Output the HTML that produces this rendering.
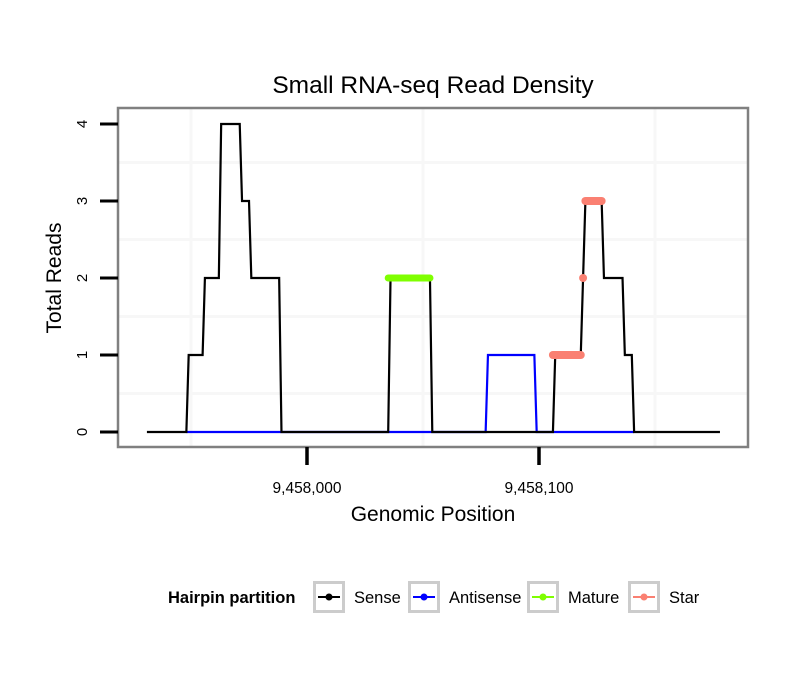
<!DOCTYPE html>
<html><head><meta charset="utf-8"><style>
body{margin:0;background:#fff;}
svg text{font-family:"Liberation Sans",sans-serif;}
</style></head><body>
<svg width="810" height="690" viewBox="0 0 810 690">
<rect width="810" height="690" fill="#fff"/>
<text x="433" y="93" font-size="24.5" text-anchor="middle">Small RNA-seq Read Density</text>
<g id="grid"></g>
<g id="series"></g>
<rect x="118" y="108" width="630" height="339" fill="none" stroke="#808080" stroke-width="2.5"/>
<g id="axes"></g>
<text x="433" y="521" font-size="21" text-anchor="middle">Genomic Position</text>
<text transform="translate(61,278) rotate(-90)" font-size="21" text-anchor="middle">Total Reads</text>
<g>
<text x="168" y="603" font-size="16.5" font-weight="bold">Hairpin partition</text>
<g id="legend"></g>
</g>
</svg>
<script>
const ticksX = [0, 100];
const tickLabelsX = ["9,458,000", "9,458,100"];
const ticksY = [0, 1, 2, 3, 4];
const senseX = [-69,-52,-51,-45,-44,-38,-37,-29,-28,-25,-24,-12,-11,35,36,53,54,106,107,118,119,120,127,128,136,137,140,141,178];
const senseY = [0,0,1,1,2,2,4,4,3,3,2,2,0,0,2,2,0,0,1,1,2,3,3,2,2,1,1,0,0];
const antiX = [-52,77,78,98,99,141];
const antiY = [0,0,1,1,0,0];
const matureX = [35,53];
const matureY = [2,2];
const starSegX = [[106,118],[119,119],[120,127]];
const starSegY = [1,2,3];
const legendLabels = ["Sense","Antisense","Mature","Star"];
const legendColors = ["#000000","#0000ff","#7fff00","#fa8072"];

const NS="http://www.w3.org/2000/svg";
const sx = v => 307 + v*2.32;
const sy = v => 432 - v*77;
function mk(tag, attrs, parent){const e=document.createElementNS(NS,tag);for(const k in attrs)e.setAttribute(k,attrs[k]);parent.appendChild(e);return e;}
const grid=document.getElementById('grid'), ser=document.getElementById('series'), ax=document.getElementById('axes'), lg=document.getElementById('legend');

[-50,50,150].forEach(v=>{const l=mk('line',{x1:sx(v),x2:sx(v),y1:109,y2:446,stroke:'#f7f7f7','stroke-width':3},grid);

});
[0.5,1.5,2.5,3.5].forEach(v=>{const l=mk('line',{x1:119,x2:747,y1:sy(v),y2:sy(v),stroke:'#f7f7f7','stroke-width':3},grid);

});

function pts(xs,ys){return xs.map((x,i)=>sx(x)+','+sy(ys[i])).join(' ');}
const a=mk('polyline',{points:pts(antiX,antiY),fill:'none',stroke:'#0000ff','stroke-width':2.2},ser);


const s=mk('polyline',{points:pts(senseX,senseY),fill:'none',stroke:'#000','stroke-width':2.2},ser);


const m=mk('line',{x1:sx(matureX[0]),x2:sx(matureX[1]),y1:sy(matureY[0]),y2:sy(matureY[1]),stroke:'#7fff00','stroke-width':7,'stroke-linecap':'round'},ser);


starSegX.forEach((seg,i)=>{const l=mk('line',{x1:sx(seg[0]),x2:sx(seg[1]),y1:sy(starSegY[i]),y2:sy(starSegY[i]),stroke:'#fa8072','stroke-width':8,'stroke-linecap':'round'},ser);

});

ticksY.forEach(v=>{const t=mk('line',{x1:100,x2:118,y1:sy(v),y2:sy(v),stroke:'#000','stroke-width':3},ax);


const tx=mk('text',{transform:`translate(87,${sy(v)}) rotate(-90)`,'font-size':15,'text-anchor':'middle'},ax);tx.textContent=v;

});
ticksX.forEach((v,i)=>{const t=mk('line',{x1:sx(v),x2:sx(v),y1:447,y2:465,stroke:'#000','stroke-width':3.5},ax);


const tx=mk('text',{x:sx(v),y:493,'font-size':15.5,'text-anchor':'middle'},ax);tx.textContent=tickLabelsX[i];

});

const boxX=[313,408,527,628];
legendLabels.forEach((lab,i)=>{const g=mk('g',{},lg);


mk('rect',{x:boxX[i]+1.5,y:582.5,width:29,height:29,fill:'#fff',stroke:'#cccccc','stroke-width':3},g);
mk('line',{x1:boxX[i]+5,x2:boxX[i]+27,y1:597,y2:597,stroke:legendColors[i],'stroke-width':2},g);
mk('circle',{cx:boxX[i]+16,cy:597,r:3.5,fill:legendColors[i]},g);
const t=mk('text',{x:boxX[i]+41,y:603,'font-size':16.5},g);t.textContent=lab;});
</script>
</body></html>
